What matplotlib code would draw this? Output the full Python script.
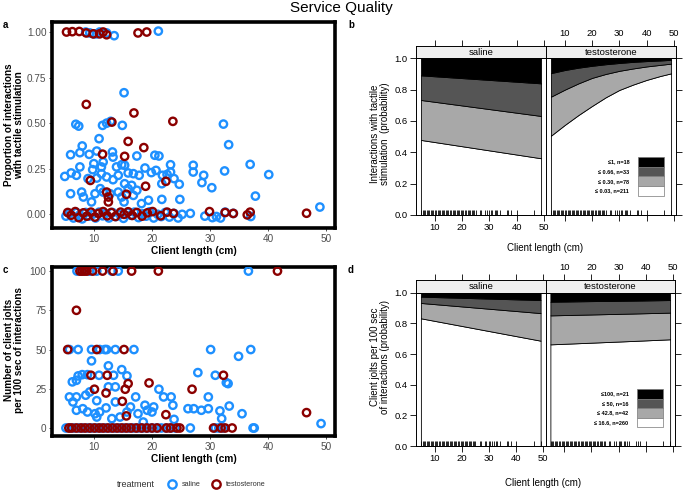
import numpy as np
import matplotlib.pyplot as plt
from matplotlib.patches import Rectangle
from matplotlib.lines import Line2D

plt.rcParams['font.family'] = ['Liberation Sans', 'DejaVu Sans']

# ---------------- data ----------------
# panel a: proportion of interactions with tactile stimulation
sal_a = [(8.6, 1.0), (9.3, 0.995), (10.0, 0.99), (10.5, 0.99), (11.0, 1.0), (12.2, 0.995), (13.5, 0.98), (21.1, 1.005),
         (15.2, 0.667), (6.9, 0.494), (7.4, 0.484), (11.5, 0.488), (12.2, 0.50), (12.9, 0.51), (14.9, 0.488),
         (32.3, 0.495), (33.2, 0.382), (10.9, 0.415), (8.0, 0.375), (6.0, 0.327), (7.6, 0.338), (9.2, 0.329),
         (10.5, 0.347), (13.2, 0.342), (13.3, 0.314), (17.4, 0.32), (20.5, 0.324), (21.2, 0.32), (11.6, 0.287),
         (11.3, 0.26), (13.9, 0.26), (14.8, 0.272), (15.3, 0.269), (27.1, 0.269), (23.2, 0.272), (36.9, 0.274),
         (40.1, 0.218), (32.5, 0.238), (27.1, 0.232), (28.9, 0.214), (28.6, 0.174), (30.3, 0.146), (37.8, 0.10),
         (24.8, 0.082), (21.7, 0.082), (5.0, 0.208), (6.1, 0.227), (7.0, 0.214), (9.8, 0.245), (10.5, 0.199),
         (11.3, 0.223), (12.2, 0.205), (13.3, 0.19), (14.2, 0.214), (15.9, 0.227), (16.8, 0.223), (17.8, 0.214),
         (18.8, 0.254), (19.9, 0.229), (20.7, 0.241), (21.8, 0.214), (22.6, 0.219), (23.2, 0.232), (23.8, 0.196),
         (24.7, 0.165), (6.0, 0.113), (7.9, 0.122), (8.2, 0.095), (9.6, 0.068), (10.2, 0.113), (11.1, 0.141),
         (11.6, 0.122), (12.8, 0.113), (14.2, 0.122), (14.8, 0.095), (15.9, 0.141), (16.8, 0.104), (17.4, 0.132),
         (18.2, 0.059), (19.4, 0.077), (15.3, 0.168), (16.5, 0.159), (21.7, 0.168), (7.6, 0.26), (9.0, 0.196),
         (10.0, 0.278), (15.2, 0.068),
         (5.2, -0.01), (5.8, 0.005), (6.5, -0.02), (7.0, 0.01), (7.5, -0.005), (8.0, -0.025), (8.6, 0.01),
         (9.2, -0.01), (9.8, 0.0), (10.3, -0.02), (10.9, 0.012), (11.5, -0.008), (12.0, 0.004), (12.6, -0.02),
         (13.2, 0.01), (13.8, -0.012), (14.5, 0.0), (15.1, -0.022), (15.8, 0.01), (16.4, -0.005), (17.0, 0.012),
         (17.7, -0.018), (18.4, 0.003), (19.0, -0.01), (19.6, 0.014), (20.3, -0.02), (21.0, 0.0), (21.6, -0.012),
         (22.3, 0.01), (23.0, -0.015), (23.8, 0.005), (24.5, -0.02), (25.2, 0.0), (26.6, 0.005), (29.1, -0.01),
         (30.4, -0.018), (31.1, -0.012), (31.8, -0.02), (32.6, 0.012), (34.0, 0.005), (37.0, -0.012), (48.9, 0.04)]

tes_a = [(5.3, 1.0), (6.3, 1.002), (7.5, 1.003), (8.7, 0.995), (9.9, 0.99), (11.0, 0.99), (11.6, 1.0),
         (12.2, 0.985), (17.6, 0.995), (19.1, 1.0),
         (8.7, 0.603), (13.1, 0.506), (16.9, 0.556), (23.6, 0.51), (15.9, 0.40), (18.6, 0.366), (11.5, 0.33),
         (15.3, 0.318), (9.4, 0.186), (22.4, 0.181), (18.9, 0.154), (12.2, 0.122), (12.5, 0.095), (12.5, 0.068),
         (15.6, 0.11),
         (5.5, 0.01), (6.1, -0.005), (6.8, 0.015), (7.4, -0.018), (8.2, 0.008), (8.8, -0.01), (9.5, 0.012),
         (10.2, -0.015), (10.8, 0.005), (11.6, 0.015), (12.3, -0.008), (13.0, 0.01), (13.7, -0.012), (14.6, 0.012),
         (15.2, 0.0), (15.9, 0.014), (16.6, -0.006), (17.4, 0.01), (18.3, -0.01), (19.2, 0.008), (20.1, 0.015),
         (21.5, -0.008), (22.6, 0.012), (23.7, 0.005), (29.9, 0.015), (32.6, 0.01), (34.0, 0.005), (36.4, -0.003),
         (36.9, 0.012), (46.6, 0.006)]

# panel c: client jolts per 100 sec of interactions
sal_c = [(7.1, 100), (7.8, 100), (9.3, 100), (10.5, 100), (13.1, 100), (14.2, 100), (36.6, 100),
         (5.8, 50), (7.3, 50), (9.6, 50), (11.0, 50), (11.9, 50), (12.2, 50), (13.7, 50), (16.9, 50), (30.1, 50),
         (37.0, 50), (34.9, 45.7), (9.6, 42.8), (12.5, 39.6), (14.8, 37.2), (27.9, 35.3), (30.9, 33.6), (7.3, 33.2),
         (8.0, 34), (8.9, 34), (10.9, 33.6), (13.4, 33.6), (15.7, 33.2), (6.3, 29.4), (7.0, 30.4), (33.1, 28.3),
         (32.8, 28.9), (12.5, 26.2), (13.7, 26.2), (21.2, 24.7), (5.8, 19.8), (7.0, 19.8), (8.6, 20.9), (9.3, 23),
         (17.2, 19.8), (22.0, 19.8), (23.3, 19.8), (29.7, 19.8), (6.4, 16.6), (10.5, 17.4), (13.7, 16.6),
         (23.6, 14.5), (33.3, 14), (18.8, 14.5), (20.3, 13.4), (12.1, 12.8), (7.0, 11.3), (8.1, 12.3), (26.2, 12.3),
         (27.2, 12.3), (28.5, 11.3), (29.7, 12.3), (31.7, 10.9), (8.9, 10.2), (10.2, 9.1), (11.0, 10.2),
         (15.7, 10.2), (17.6, 9.1), (19.2, 11.3), (20.0, 10.2), (35.5, 9.1), (32.0, 6), (10.5, 7), (13.1, 6),
         (14.5, 7), (18.5, 3.8), (23.8, 5.5), (49.1, 2.8), (16.3, 13.4),
         (5.2, 0), (5.9, 0), (6.6, 0), (7.4, 0), (8.1, 0), (8.9, 0), (9.6, 0), (10.4, 0), (11.2, 0), (12.0, 0),
         (12.8, 0), (13.6, 0), (14.4, 0), (15.2, 0), (16.0, 0), (16.8, 0), (17.6, 0), (18.4, 0), (19.2, 0),
         (20.0, 0), (20.8, 0), (21.6, 0), (22.4, 0), (23.2, 0), (24.0, 0), (26.6, 0), (30.9, 0), (31.5, 0),
         (32.3, 0), (37.4, 0), (37.6, 0)]

tes_c = [(7.6, 100), (8.0, 100), (8.4, 100), (8.8, 100), (9.8, 100), (11.5, 100), (13.3, 100), (16.5, 100),
         (21.1, 100), (41.6, 100), (7.0, 75), (5.5, 50), (10.5, 50), (15.2, 50), (9.5, 33.6), (12.3, 33.6),
         (32.3, 33.6), (19.5, 28.7), (15.9, 28.3), (10.1, 24.7), (15.4, 24.7), (26.9, 24.7), (12.1, 22.3),
         (14.9, 17), (46.6, 9.8), (15.6, 7.7), (22.4, 8.5),
         (5.7, 0), (6.2, 0), (7.0, 0), (7.8, 0), (8.5, 0), (9.3, 0), (10.1, 0), (10.9, 0), (11.6, 0), (12.4, 0),
         (13.2, 0), (14.0, 0), (14.8, 0), (15.6, 0), (16.4, 0), (17.3, 0), (18.2, 0), (19.1, 0), (20.0, 0),
         (20.9, 0), (22.5, 0), (23.2, 0), (24.3, 0), (24.8, 0), (30.6, 0), (31.9, 0), (32.6, 0), (33.8, 0)]

# effect plots: cumulative probability boundaries (white | light | dark | black)
b_sal_x = [4.9, 49]
b_sal = [[0.479, 0.362], [0.734, 0.632], [0.891, 0.840]]
b_tes_x = [4.9, 10, 15, 20, 25, 30, 35, 40, 45, 49]
b_tes = [[0.506, 0.575, 0.638, 0.696, 0.751, 0.798, 0.832, 0.862, 0.887, 0.904],
         [0.755, 0.800, 0.840, 0.875, 0.900, 0.920, 0.935, 0.948, 0.958, 0.966],
         [0.905, 0.925, 0.940, 0.952, 0.962, 0.970, 0.977, 0.982, 0.986, 0.990]]
b_labels = ['\u22641, n=18', '\u2264 0.66, n=33', '\u2264 0.30, n=78', '\u2264 0.03, n=211']

d_sal_x = [4.9, 49]
d_sal = [[0.833, 0.687], [0.933, 0.867], [0.974, 0.952]]
d_tes_x = [4.9, 20, 35, 49]
d_tes = [[0.663, 0.674, 0.685, 0.696], [0.852, 0.858, 0.864, 0.870], [0.941, 0.945, 0.948, 0.952]]
d_labels = ['\u2264100, n=21', '\u2264 50, n=16', '\u2264 42.8, n=42', '\u2264 16.6, n=260']

# client lengths for the rug (half-cm resolution)
rug = sorted(set(round(p[0] * 2) / 2 for p in sal_a + tes_a))

BLUE = '#1E90FF'
RED = '#8B0000'
FILLS = ['white', '#A8A8A8', '#555555', 'black']

W, H = 685, 490
fig = plt.figure(figsize=(6.85, 4.9), dpi=100)


def box(l, t, r, b):
    return [l / W, 1 - b / H, (r - l) / W, (b - t) / H]


def scatter_panel(rect, sal, tes, ylim, yticks, ylabels):
    ax = fig.add_axes(rect)
    s = np.array(sal)
    t = np.array(tes)
    ax.scatter(s[:, 0], s[:, 1], s=28, facecolors='none', edgecolors=BLUE, linewidths=1.7, zorder=3)
    ax.scatter(t[:, 0], t[:, 1], s=28, facecolors='none', edgecolors=RED, linewidths=1.7, zorder=3)
    ax.set_xlim(2.8, 51.5)
    ax.set_ylim(*ylim)
    ax.set_xticks([10, 20, 30, 40, 50])
    ax.set_yticks(yticks)
    ax.set_yticklabels(ylabels)
    for sp in ax.spines.values():
        sp.set_linewidth(2.6)
    ax.tick_params(length=2.5, width=0.6, color='#333333', labelcolor='#4D4D4D', labelsize=7.2, pad=1.5)
    ax.set_xlabel('Client length (cm)', fontsize=7.3, fontweight='bold', labelpad=1.5)
    return ax


def effect_panels(l, m, r, stop, top, bot, sal_x, sal_b, tes_x, tes_b, labels):
    axes = []
    for i, (x0, x1, xs, bs, name) in enumerate([(l, m, sal_x, sal_b, 'saline'), (m, r, tes_x, tes_b, 'testosterone')]):
        ax = fig.add_axes(box(x0, top, x1, bot))
        st = fig.add_axes(box(x0, stop, x1, top), sharex=ax)
        lower = [0] * len(xs)
        for k, up in enumerate(bs + [[1] * len(xs)]):
            ax.fill_between(xs, lower, up, facecolor=FILLS[k], edgecolor='black', linewidth=0.6)
            lower = up
        ax.vlines(rug, 0, 0.035, color='black', linewidth=0.6)
        ax.set_xlim(3.1, 50.8)
        ax.set_ylim(0, 1)
        ax.set_xticks([10, 20, 30, 40, 50])
        ax.set_yticks([0, 0.2, 0.4, 0.6, 0.8, 1.0])
        ax.set_yticklabels(['0.0', '0.2', '0.4', '0.6', '0.8', '1.0'])
        ax.tick_params(direction='out', length=4, width=0.6, labelsize=6.8, pad=2,
                       top=False, bottom=True, labelbottom=(i == 0),
                       left=(i == 0), labelleft=(i == 0), right=(i == 1), labelright=False)
        for sp in ax.spines.values():
            sp.set_linewidth(0.7)
        st.set_facecolor('#EFEFEF')
        st.set_ylim(0, 1)
        st.set_yticks([])
        st.tick_params(axis='x', direction='out', length=4, width=0.6, labelsize=6.8, pad=2,
                       top=True, bottom=False, labelbottom=False, labeltop=(i == 1))
        for sp in st.spines.values():
            sp.set_linewidth(0.7)
        st.text(0.5, 0.45, name, transform=st.transAxes, ha='center', va='center', fontsize=6.8)
        axes.append(ax)
    # key in the testosterone panel
    ax = axes[1]
    y0 = 0.37
    hgt = 0.062
    for k in range(4):
        yb = y0 - (k + 1) * hgt
        ax.add_patch(Rectangle((0.708, yb), 0.2, hgt, transform=ax.transAxes, facecolor=FILLS[3 - k],
                               edgecolor='#777777', linewidth=0.5, zorder=4))
        ax.text(0.64, yb + hgt / 2, labels[k], transform=ax.transAxes, ha='right', va='center',
                fontsize=4.0, fontweight='bold', zorder=4,
                family=['Liberation Sans Narrow', 'Liberation Sans', 'DejaVu Sans'])
    return axes


# panel a
scatter_panel(box(52, 22, 335, 228), sal_a, tes_a, (-0.075, 1.055),
              [0, 0.25, 0.5, 0.75, 1.0], ['0.00', '0.25', '0.50', '0.75', '1.00'])
fig.text(14 / W, 1 - 125 / H, 'Proportion of interactions\nwith tactile stimulation', rotation=90,
         ha='center', va='center', fontsize=7.2, fontweight='bold', linespacing=1.1)

# panel c
scatter_panel(box(52, 267, 335, 436), sal_c, tes_c, (-5.1, 102.6),
              [0, 25, 50, 75, 100], ['0', '25', '50', '75', '100'])
fig.text(14 / W, 1 - 350 / H, 'Number of client jolts\nper 100 sec of interactions', rotation=90,
         ha='center', va='center', fontsize=7.2, fontweight='bold', linespacing=1.1)

# panel b
effect_panels(416, 546, 676, 46, 58.3, 215, b_sal_x, b_sal, b_tes_x, b_tes, b_labels)
fig.text(380 / W, 1 - 134 / H, 'Interactions with tactile\nstimulation  (probability)', rotation=90,
         ha='center', va='center', fontsize=7, linespacing=1.1)
fig.text(545 / W, 1 - 248 / H, 'Client length (cm)', ha='center', va='center', fontsize=7)

# panel d
effect_panels(416, 545.5, 675, 280, 292.7, 446, d_sal_x, d_sal, d_tes_x, d_tes, d_labels)
fig.text(380 / W, 1 - 357 / H, 'Client jolts per 100 sec\nof interactions (probability)', rotation=90,
         ha='center', va='center', fontsize=7, linespacing=1.1)
fig.text(543 / W, 1 - 483 / H, 'Client length (cm)', ha='center', va='center', fontsize=7)

# treatment legend
fig.text(117 / W, 1 - 484 / H, 'treatment', ha='left', va='center', fontsize=6.5, color='#333333')
for xc, col, lab in [(172, BLUE, 'saline'), (216, RED, 'testosterone')]:
    fig.add_artist(Line2D([xc / W], [1 - 484 / H], marker='o', markersize=6, markerfacecolor='none',
                          markeredgecolor=col, markeredgewidth=1.7, transform=fig.transFigure))
    fig.text((xc + 10) / W, 1 - 484 / H, lab, ha='left', va='center', fontsize=5.2, color='#333333')

# title and panel letters
fig.text(0.4985, 1 - 8 / H, 'Service Quality', ha='center', va='center', fontsize=11)
for lx, ly, let in [(3, 25, 'a'), (348, 25, 'b'), (3, 270, 'c'), (348, 270, 'd')]:
    fig.text(lx / W, 1 - ly / H, let, ha='left', va='center', fontsize=7, fontweight='bold')

fig.savefig('out.png', dpi=100)
